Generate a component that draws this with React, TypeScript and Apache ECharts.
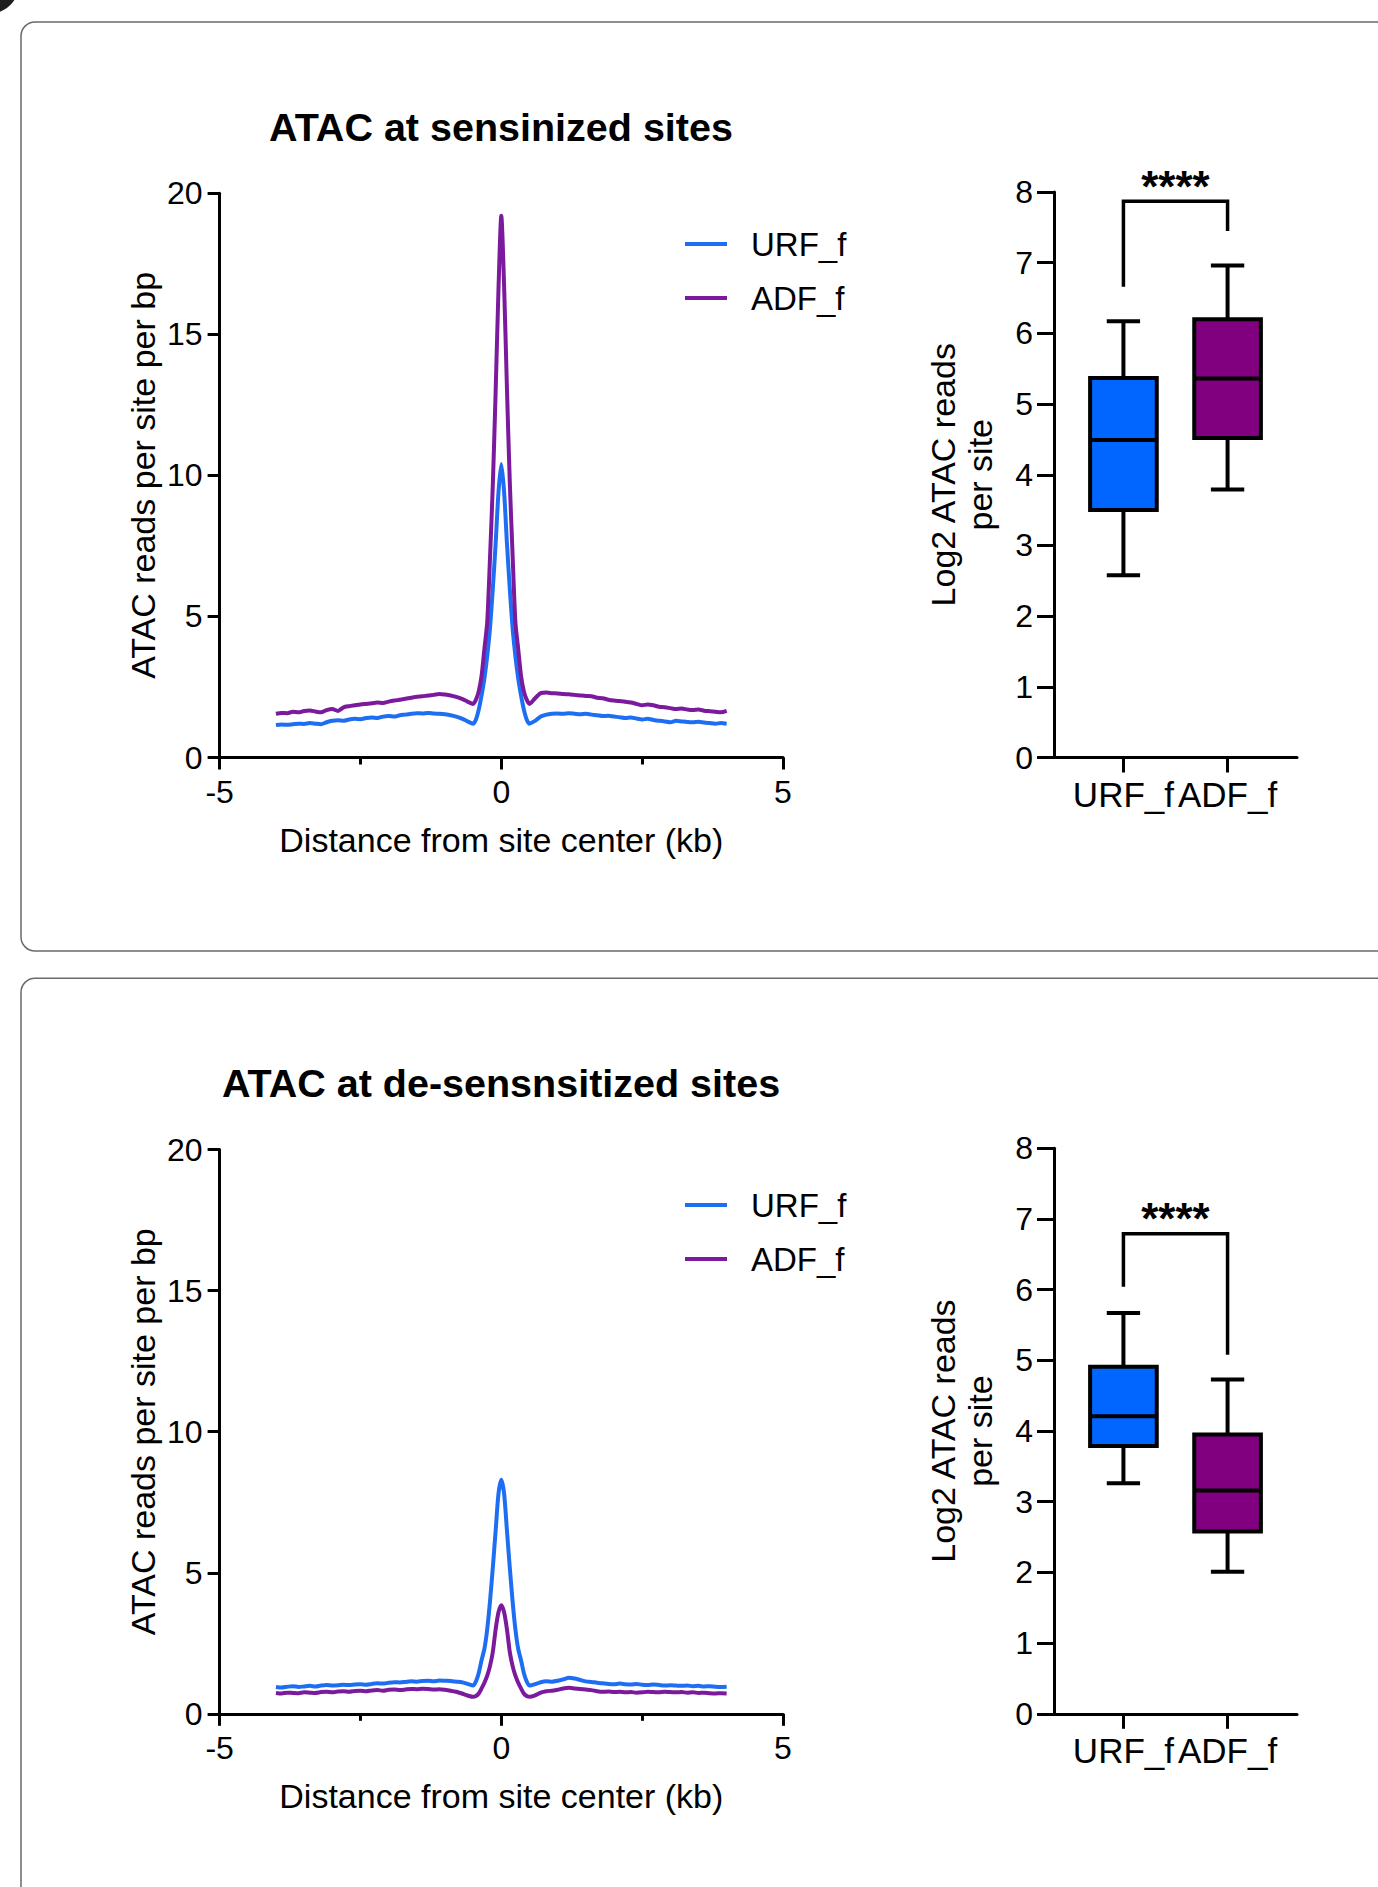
import React, { useEffect, useRef } from "react";
import * as echarts from "echarts";

// ---------- DATA ----------
const POSITIONS_KB = [
  -4.0, -3.9, -3.8, -3.7, -3.6, -3.5, -3.4, -3.3, -3.2, -3.1,
  -3.0, -2.9, -2.8, -2.7, -2.6, -2.5, -2.4, -2.3, -2.2, -2.1,
  -2.0, -1.9, -1.8, -1.7, -1.6, -1.5, -1.4, -1.3, -1.2, -1.1,
  -1.0, -0.9, -0.8, -0.7, -0.6, -0.5,
  -0.45, -0.4, -0.35, -0.3, -0.25, -0.2, -0.15, -0.1, -0.05, 0,
  0.05, 0.1, 0.15, 0.2, 0.25, 0.3, 0.35, 0.4, 0.45,
  0.5, 0.6, 0.7, 0.8, 0.9, 1.0, 1.1, 1.2, 1.3, 1.4,
  1.5, 1.6, 1.7, 1.8, 1.9, 2.0, 2.1, 2.2, 2.3, 2.4,
  2.5, 2.6, 2.7, 2.8, 2.9, 3.0, 3.1, 3.2, 3.3, 3.4,
  3.5, 3.6, 3.7, 3.8, 3.9, 4.0,
];

const SENS_URF = [
  1.15, 1.17, 1.16, 1.18, 1.20, 1.19, 1.22, 1.20, 1.18, 1.25,
  1.30, 1.32, 1.30, 1.35, 1.37, 1.36, 1.40, 1.42, 1.40, 1.45,
  1.47, 1.45, 1.50, 1.52, 1.55, 1.57, 1.56, 1.58, 1.56, 1.55,
  1.53, 1.50, 1.45, 1.38, 1.28, 1.20,
  1.35, 1.7, 2.2, 2.8, 3.6, 4.6, 6.0, 7.6, 9.4, 10.4,
  9.4, 7.6, 6.0, 4.6, 3.6, 2.8, 2.2, 1.7, 1.35,
  1.20, 1.30, 1.45, 1.52, 1.55, 1.56, 1.55, 1.57, 1.55, 1.53,
  1.55, 1.52, 1.50, 1.47, 1.48, 1.45, 1.43, 1.40, 1.42, 1.38,
  1.35, 1.37, 1.33, 1.30, 1.28, 1.25, 1.30, 1.28, 1.26, 1.25,
  1.27, 1.24, 1.22, 1.20, 1.22, 1.20,
];

const SENS_ADF = [
  1.55, 1.58, 1.57, 1.62, 1.60, 1.65, 1.67, 1.63, 1.60, 1.68,
  1.72, 1.65, 1.78, 1.82, 1.85, 1.88, 1.90, 1.92, 1.95, 1.93,
  1.98, 2.02, 2.05, 2.08, 2.12, 2.15, 2.17, 2.20, 2.22, 2.25,
  2.23, 2.20, 2.15, 2.08, 1.98, 1.90,
  2.05, 2.35, 2.9, 3.85, 4.8, 7.1, 9.7, 13.0, 16.6, 19.2,
  16.7, 13.1, 9.8, 7.2, 4.8, 3.85, 2.9, 2.35, 2.05,
  1.90, 2.10, 2.28, 2.30, 2.28, 2.27, 2.25, 2.24, 2.22, 2.20,
  2.18, 2.17, 2.12, 2.10, 2.05, 2.02, 2.00, 1.98, 1.95, 1.90,
  1.85, 1.88, 1.85, 1.80, 1.78, 1.75, 1.72, 1.74, 1.70, 1.68,
  1.70, 1.66, 1.64, 1.62, 1.60, 1.65,
];

const DESENS_URF = [
  0.95, 0.93, 0.96, 0.98, 0.95, 0.97, 0.99, 0.97, 1.00, 1.02,
  1.00, 1.01, 1.03, 1.02, 1.04, 1.05, 1.03, 1.06, 1.08, 1.07,
  1.10, 1.12, 1.11, 1.13, 1.15, 1.14, 1.16, 1.17, 1.15, 1.18,
  1.17, 1.16, 1.14, 1.12, 1.06, 1.00,
  1.15, 1.45, 1.9, 2.3, 3.0, 4.0, 5.2, 6.5, 7.8, 8.3,
  7.8, 6.5, 5.2, 4.0, 3.0, 2.3, 1.9, 1.45, 1.15,
  1.00, 1.05, 1.12, 1.15, 1.14, 1.17, 1.22, 1.28, 1.25, 1.20,
  1.15, 1.13, 1.10, 1.08, 1.06, 1.05, 1.07, 1.05, 1.04, 1.06,
  1.03, 1.02, 1.04, 1.02, 1.00, 1.01, 1.00, 0.99, 1.00, 0.98,
  0.99, 0.97, 0.98, 0.96, 0.95, 0.96,
];

const DESENS_ADF = [
  0.74, 0.72, 0.75, 0.74, 0.73, 0.76, 0.75, 0.74, 0.77, 0.78,
  0.76, 0.79, 0.80, 0.78, 0.81, 0.82, 0.80, 0.83, 0.84, 0.82,
  0.85, 0.86, 0.84, 0.86, 0.88, 0.87, 0.89, 0.88, 0.86, 0.87,
  0.85, 0.82, 0.78, 0.72, 0.65, 0.60,
  0.63, 0.72, 0.9, 1.1, 1.35, 1.7, 2.2, 3.0, 3.6, 3.85,
  3.6, 3.0, 2.2, 1.7, 1.35, 1.1, 0.9, 0.72, 0.63,
  0.60, 0.65, 0.75, 0.80, 0.82, 0.85, 0.90, 0.92, 0.90, 0.88,
  0.86, 0.84, 0.80, 0.78, 0.79, 0.77, 0.78, 0.76, 0.77, 0.75,
  0.76, 0.78, 0.77, 0.76, 0.78, 0.77, 0.76, 0.77, 0.75, 0.76,
  0.74, 0.75, 0.73, 0.72, 0.73, 0.72,
];

const BOX_CATEGORIES = ["URF_f", "ADF_f"];
// [lower whisker, Q1, median, Q3, upper whisker]
const SENS_URF_BOX = [2.58, 3.5, 4.49, 5.37, 6.17];
const SENS_ADF_BOX = [3.79, 4.52, 5.36, 6.2, 6.96];
const DESENS_URF_BOX = [3.26, 3.79, 4.21, 4.91, 5.67];
const DESENS_ADF_BOX = [2.01, 2.58, 3.16, 3.95, 4.73];
// [bracket top, left leg end, right leg end]
const SENS_BRACKET = [7.87, 6.66, 7.45];
const DESENS_BRACKET = [6.79, 6.04, 5.08];
const SIG_LABEL = "****";

const LINE_Y_TICKS = { min: 0, max: 20, interval: 5 };
const LINE_X_TICKS = { min: -5, max: 5, interval: 5 };
const BOX_Y_TICKS = { min: 0, max: 8, interval: 1 };

const TITLES = ["ATAC at sensinized sites", "ATAC at de-sensnsitized sites"];

// ---------- STYLE ----------
const FONT = '"Liberation Sans", Arial, Helvetica, sans-serif';
const URF_LINE = "#1E6EF4";
const ADF_LINE = "#7B1A9C";
const URF_FILL = "#0066FF";
const ADF_FILL = "#800080";
const BLACK = "#000";
const OFFSET = 956.3;
const LEGEND_TOPS = [222, 1183];

const BOX_W = 0.64;
const CAP_W = 0.32;

function boxRender(params: any, api: any) {
  const x = api.value(0);
  const lo = api.coord([x, api.value(1)]);
  const q1 = api.coord([x, api.value(2)]);
  const med = api.coord([x, api.value(3)]);
  const q3 = api.coord([x, api.value(4)]);
  const hi = api.coord([x, api.value(5)]);
  const bw = api.size([BOX_W, 0])[0];
  const cw = api.size([CAP_W, 0])[0];
  const cx = med[0];
  const ls = { stroke: BLACK, lineWidth: 4 };
  return {
    type: "group",
    children: [
      { type: "line", shape: { x1: cx, y1: q3[1], x2: cx, y2: hi[1] }, style: ls },
      { type: "line", shape: { x1: cx - cw / 2, y1: hi[1], x2: cx + cw / 2, y2: hi[1] }, style: ls },
      { type: "line", shape: { x1: cx, y1: q1[1], x2: cx, y2: lo[1] }, style: ls },
      { type: "line", shape: { x1: cx - cw / 2, y1: lo[1], x2: cx + cw / 2, y2: lo[1] }, style: ls },
      {
        type: "rect",
        shape: { x: cx - bw / 2, y: q3[1], width: bw, height: q1[1] - q3[1] },
        style: { fill: api.visual("color"), stroke: BLACK, lineWidth: 4 },
      },
      { type: "line", shape: { x1: cx - bw / 2, y1: med[1], x2: cx + bw / 2, y2: med[1] }, style: ls },
    ],
  };
}

function bracketRender(params: any, api: any) {
  const x1 = api.value(0);
  const x2 = api.value(1);
  const topL = api.coord([x1, api.value(2)]);
  const topR = api.coord([x2, api.value(2)]);
  const endL = api.coord([x1, api.value(3)]);
  const endR = api.coord([x2, api.value(4)]);
  return {
    type: "group",
    children: [
      {
        type: "polyline",
        shape: { points: [endL, topL, topR, endR] },
        style: { stroke: BLACK, lineWidth: 3.5, fill: "none" },
      },
      {
        type: "text",
        x: (topL[0] + topR[0]) / 2,
        y: topL[1] - 15,
        style: {
          text: SIG_LABEL,
          fill: BLACK,
          font: `bold 44px ${FONT}`,
          textAlign: "center",
          textVerticalAlign: "middle",
        },
      },
    ],
  };
}

function buildOption() {
  const axisLineStyle = { color: BLACK, width: 3 };
  const grids: any[] = [];
  const xAxes: any[] = [];
  const yAxes: any[] = [];
  const series: any[] = [];
  const legends: any[] = [];
  const graphics: any[] = [];

  const panels = [
    { urf: SENS_URF, adf: SENS_ADF, urfBox: SENS_URF_BOX, adfBox: SENS_ADF_BOX, bracket: SENS_BRACKET },
    { urf: DESENS_URF, adf: DESENS_ADF, urfBox: DESENS_URF_BOX, adfBox: DESENS_ADF_BOX, bracket: DESENS_BRACKET },
  ];

  panels.forEach((p, k) => {
    const dy = k * OFFSET;
    const gLine = grids.length;
    grids.push({ left: 219.6, top: 193.3 + dy, width: 563.4, height: 564.2 });
    const gBox = grids.length;
    grids.push({ left: 1054, top: 192 + dy, width: 243, height: 565.5 });

    xAxes.push({
      type: "value",
      gridIndex: gLine,
      ...LINE_X_TICKS,
      axisLine: { show: true, onZero: false, lineStyle: axisLineStyle },
      axisTick: { show: true, length: 12, lineStyle: { color: BLACK, width: 3 } },
      minorTick: { show: true, splitNumber: 2, length: 7, lineStyle: { color: BLACK, width: 3 } },
      axisLabel: { fontSize: 32, color: BLACK, margin: 18, fontFamily: FONT },
      splitLine: { show: false },
      minorSplitLine: { show: false },
      name: "Distance from site center (kb)",
      nameLocation: "middle",
      nameGap: 65,
      nameTextStyle: { fontSize: 34, color: BLACK, fontFamily: FONT },
    });
    yAxes.push({
      type: "value",
      gridIndex: gLine,
      ...LINE_Y_TICKS,
      axisLine: { show: true, onZero: false, lineStyle: axisLineStyle },
      axisTick: { show: true, length: 12, lineStyle: { color: BLACK, width: 3 } },
      axisLabel: { fontSize: 32, color: BLACK, margin: 17, fontFamily: FONT },
      splitLine: { show: false },
      name: "ATAC reads per site per bp",
      nameLocation: "middle",
      nameGap: 60,
      nameRotate: 90,
      nameTextStyle: { fontSize: 34, color: BLACK, fontFamily: FONT },
    });
    xAxes.push({
      type: "value",
      gridIndex: gBox,
      min: 1 / 3,
      max: 8 / 3,
      axisLine: { show: true, onZero: false, lineStyle: axisLineStyle },
      axisTick: { show: true, length: 15, customValues: [1, 2], lineStyle: { color: BLACK, width: 3 } },
      axisLabel: {
        customValues: [1, 2],
        formatter: (v: number) => BOX_CATEGORIES[Math.round(v) - 1] || "",
        fontSize: 35,
        color: BLACK,
        margin: 19,
        fontFamily: FONT,
      },
      splitLine: { show: false },
    });
    yAxes.push({
      type: "value",
      gridIndex: gBox,
      ...BOX_Y_TICKS,
      axisLine: { show: true, onZero: false, lineStyle: axisLineStyle },
      axisTick: { show: true, length: 17, lineStyle: { color: BLACK, width: 3 } },
      axisLabel: { fontSize: 32, color: BLACK, margin: 21, fontFamily: FONT },
      splitLine: { show: false },
      name: "Log2 ATAC reads\nper site",
      nameLocation: "middle",
      nameGap: 56,
      nameRotate: 90,
      nameTextStyle: { fontSize: 34, lineHeight: 37, color: BLACK, fontFamily: FONT, align: "center" },
    });

    const xl = xAxes.length - 2;
    const xb = xAxes.length - 1;

    series.push({
      type: "line",
      name: "URF_f",
      xAxisIndex: xl,
      yAxisIndex: xl,
      data: POSITIONS_KB.map((x, i) => [x, p.urf[i]]),
      showSymbol: false,
      symbol: "none",
      smooth: 0.25,
      lineStyle: { color: URF_LINE, width: 4 },
      itemStyle: { color: URF_LINE },
      z: k === 0 ? 3 : 4,
    });
    series.push({
      type: "line",
      name: "ADF_f",
      xAxisIndex: xl,
      yAxisIndex: xl,
      data: POSITIONS_KB.map((x, i) => [x, p.adf[i]]),
      showSymbol: false,
      symbol: "none",
      smooth: 0.25,
      lineStyle: { color: ADF_LINE, width: 4 },
      itemStyle: { color: ADF_LINE },
      z: 3,
    });
    series.push({
      type: "custom",
      xAxisIndex: xb,
      yAxisIndex: xb,
      renderItem: boxRender,
      encode: { x: 0, y: [1, 2, 3, 4, 5] },
      data: [
        { value: [1, ...p.urfBox], itemStyle: { color: URF_FILL } },
        { value: [2, ...p.adfBox], itemStyle: { color: ADF_FILL } },
      ],
      z: 5,
    });
    series.push({
      type: "custom",
      xAxisIndex: xb,
      yAxisIndex: xb,
      renderItem: bracketRender,
      encode: { x: [0, 1], y: [2, 3, 4] },
      data: [[1, 2, ...p.bracket]],
      z: 5,
    });

    legends.push({
      data: ["URF_f", "ADF_f"],
      orient: "vertical",
      left: 680,
      top: LEGEND_TOPS[k],
      icon: "rect",
      itemWidth: 42,
      itemHeight: 4,
      itemGap: 20,
      selectedMode: false,
      textStyle: { fontSize: 33, color: BLACK, lineHeight: 34, fontFamily: FONT, padding: [0, 0, 0, 19] },
    });

    graphics.push({
      type: "rect",
      z: -10,
      shape: { x: 21, y: 22 + dy, width: 1420, height: 929, r: 14 },
      style: { fill: "#fff", stroke: "#6a6a6a", lineWidth: 1.5 },
    });
    graphics.push({
      type: "text",
      x: 501,
      y: 126.5 + dy,
      style: {
        text: TITLES[k],
        fill: BLACK,
        font: `bold 39.5px ${FONT}`,
        textAlign: "center",
        textVerticalAlign: "middle",
      },
    });
  });

  graphics.push({
    type: "circle",
    shape: { cx: -12, cy: -18, r: 32 },
    style: { fill: "#1e1e1e" },
  });

  return {
    animation: false,
    backgroundColor: "#fff",
    textStyle: { fontFamily: FONT, color: BLACK },
    grid: grids,
    xAxis: xAxes,
    yAxis: yAxes,
    legend: legends,
    series,
    graphic: graphics,
  };
}

export default function App() {
  const ref = useRef<HTMLDivElement>(null);
  useEffect(() => {
    if (!ref.current) return;
    const chart = echarts.init(ref.current, null, { renderer: "svg" });
    chart.setOption(buildOption() as any);
    return () => chart.dispose();
  }, []);
  return (
    <div
      ref={ref}
      style={{ position: "absolute", left: 0, top: 0, width: 1378, height: 1887, background: "#fff" }}
    />
  );
}
